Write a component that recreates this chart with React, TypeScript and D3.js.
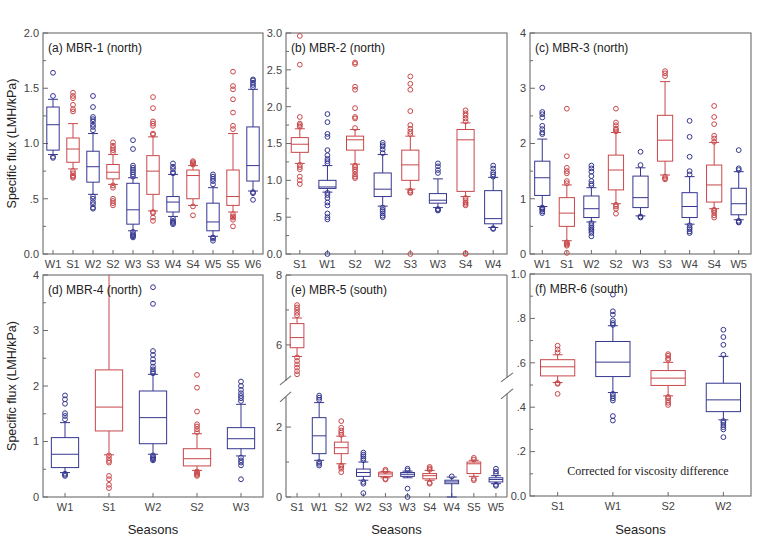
import React from "react";
import * as d3 from "d3";

// ---------- data: [lower whisker, Q1, median, Q3, upper whisker] ----------
const mbr1Seasons = ["W1", "S1", "W2", "S2", "W3", "S3", "W4", "S4", "W5", "S5", "W6"];
const mbr1Boxes = [
  [0.9, 0.94, 1.17, 1.33, 1.4],
  [0.77, 0.83, 0.95, 1.05, 1.18],
  [0.54, 0.65, 0.79, 0.93, 1.09],
  [0.63, 0.68, 0.74, 0.81, 0.9],
  [0.21, 0.27, 0.4, 0.64, 0.69],
  [0.39, 0.54, 0.75, 0.89, 1.06],
  [0.34, 0.38, 0.47, 0.52, 0.72],
  [0.44, 0.5, 0.71, 0.76, 0.8],
  [0.16, 0.21, 0.29, 0.46, 0.6],
  [0.38, 0.44, 0.52, 0.76, 1.09],
  [0.57, 0.66, 0.8, 1.15, 1.49],
];
const mbr1Outliers = [
  [1.64, 1.43, 0.88, 0.87],
  [1.46, 1.43, 1.41, 1.35, 1.31, 1.29, 0.75, 0.73, 0.71, 0.7, 0.69],
  [1.43, 1.33, 1.24, 1.22, 1.2, 1.17, 1.15, 1.12, 0.52, 0.5, 0.47, 0.45, 0.42, 0.41],
  [1.01, 0.98, 0.96, 0.94, 0.92, 0.62, 0.6, 0.5, 0.48, 0.46, 0.44],
  [1.03, 0.95, 0.8, 0.78, 0.76, 0.74, 0.72, 0.7, 0.2, 0.18, 0.17, 0.16, 0.15],
  [1.42, 1.32, 1.2, 1.18, 1.16, 1.09, 1.08, 0.38, 0.37, 0.33, 0.3],
  [0.82, 0.79, 0.77, 0.74, 0.73, 0.32, 0.3, 0.29, 0.28, 0.27],
  [0.84, 0.83, 0.82, 0.81, 0.43, 0.35],
  [0.72, 0.7, 0.68, 0.66, 0.63, 0.15, 0.14, 0.12],
  [1.65, 1.52, 1.49, 1.4, 1.28, 1.16, 1.13, 0.36, 0.34, 0.33, 0.31, 0.25],
  [1.58, 1.57, 1.55, 1.53, 1.51, 0.56, 0.55, 0.49],
];

const mbr2Seasons = ["S1", "W1", "S2", "W2", "S3", "W3", "S4", "W4"];
const mbr2Boxes = [
  [1.23, 1.38, 1.49, 1.58, 1.7],
  [0.84, 0.89, 0.91, 1.0, 1.2],
  [1.22, 1.41, 1.55, 1.6, 1.69],
  [0.65, 0.78, 0.88, 1.1, 1.35],
  [0.88, 1.0, 1.21, 1.41, 1.6],
  [0.63, 0.69, 0.73, 0.82, 1.02],
  [0.78, 0.85, 1.55, 1.69, 1.78],
  [0.36, 0.41, 0.48, 0.86, 1.04],
];
const mbr2Outliers = [
  [2.96, 2.57, 1.86, 1.77, 1.75, 1.73, 1.21, 1.18, 1.15, 1.05, 1.0, 0.95],
  [1.9, 1.79, 1.63, 1.59, 1.41, 1.34, 1.29, 1.26, 1.23, 0.83, 0.8, 0.76, 0.7, 0.66, 0.55, 0.5, 0.47, 0.0],
  [2.6, 2.58, 2.27, 2.23, 1.98, 1.86, 1.84, 1.71, 1.2, 1.18, 1.15, 1.12, 1.08, 1.05, 1.03],
  [1.51, 1.48, 1.46, 1.42, 1.37, 0.63, 0.6, 0.58, 0.55, 0.52, 0.5],
  [2.41, 2.31, 2.23, 1.94, 1.75, 1.7, 1.66, 1.63, 0.86, 0.84, 0.83, 0.0],
  [1.23, 1.19, 1.14, 1.1, 0.61, 0.6, 0.59],
  [1.95, 1.91, 1.88, 1.84, 1.8, 0.76, 0.73, 0.7, 0.68, 0.66, 0.01, 0.0],
  [1.2, 1.16, 1.11, 1.08, 1.05, 0.35, 0.34],
];

const mbr3Seasons = ["W1", "S1", "W2", "S2", "W3", "S3", "W4", "S4", "W5"];
const mbr3Boxes = [
  [0.86, 1.06, 1.38, 1.68, 2.08],
  [0.24, 0.5, 0.74, 1.02, 1.25],
  [0.58, 0.66, 0.82, 1.05, 1.2],
  [0.91, 1.16, 1.52, 1.79, 2.2],
  [0.69, 0.84, 1.02, 1.41, 1.56],
  [1.43, 1.68, 2.06, 2.51, 3.12],
  [0.54, 0.66, 0.86, 1.11, 1.4],
  [0.82, 0.94, 1.25, 1.61, 2.02],
  [0.62, 0.71, 0.91, 1.19, 1.49],
];
const mbr3Outliers = [
  [3.01, 2.57, 2.53, 2.47, 2.32, 2.26, 2.2, 2.17, 0.84, 0.82, 0.8, 0.77, 0.74],
  [2.63, 1.77, 1.56, 1.5, 1.46, 1.32, 1.28, 0.21, 0.19, 0.17, 0.15, 0.02],
  [1.6, 1.55, 1.49, 1.41, 1.32, 1.27, 1.24, 0.56, 0.52, 0.48, 0.45, 0.42, 0.38, 0.32],
  [2.63, 2.38, 2.33, 2.27, 2.25, 2.22, 0.89, 0.86, 0.82, 0.73],
  [1.85, 1.61, 0.68, 0.66],
  [3.31, 3.27, 3.22, 1.4, 1.37, 1.35],
  [2.41, 2.12, 1.76, 1.5, 1.44, 0.52, 0.48, 0.45, 0.41, 0.38],
  [2.68, 2.48, 2.35, 2.14, 2.09, 2.03, 0.8, 0.78, 0.75, 0.7, 0.66],
  [1.88, 1.55, 1.52, 0.6, 0.58, 0.57],
];

const mbr4Seasons = ["W1", "S1", "W2", "S2", "W3"];
const mbr4Boxes = [
  [0.44, 0.53, 0.77, 1.07, 1.34],
  [0.76, 1.19, 1.62, 2.29, 4.6],
  [0.77, 0.96, 1.43, 1.91, 2.21],
  [0.48, 0.56, 0.69, 0.87, 1.14],
  [0.74, 0.87, 1.05, 1.25, 1.67],
];
const mbr4Outliers = [
  [1.83, 1.76, 1.68, 1.51, 1.46, 1.4, 0.42, 0.4, 0.38],
  [0.75, 0.7, 0.65, 0.62, 0.38, 0.32, 0.22, 0.16],
  [3.78, 3.48, 2.63, 2.56, 2.48, 2.42, 2.35, 2.3, 2.26, 2.23, 0.75, 0.72, 0.7, 0.68, 0.66],
  [2.2, 1.97, 1.54, 1.31, 1.27, 1.22, 1.17, 0.46, 0.44, 0.42, 0.4, 0.38],
  [2.08, 2.0, 1.93, 1.87, 1.82, 1.78, 1.73, 0.71, 0.66, 0.62, 0.57, 0.32],
];

const mbr5Seasons = ["S1", "W1", "S2", "W2", "S3", "W3", "S4", "W4", "S5", "W5"];
const mbr5Boxes = [
  [5.67, 5.92, 6.21, 6.61, 6.77],
  [1.05, 1.24, 1.75, 2.27, 2.7],
  [0.95, 1.24, 1.41, 1.57, 1.74],
  [0.48, 0.59, 0.7, 0.8, 1.0],
  [0.55, 0.59, 0.66, 0.71, 0.73],
  [0.55, 0.59, 0.65, 0.7, 0.74],
  [0.48, 0.52, 0.61, 0.67, 0.76],
  [0.0, 0.38, 0.43, 0.48, 0.57],
  [0.59, 0.67, 0.95, 1.0, 1.05],
  [0.38, 0.43, 0.5, 0.55, 0.61],
];
const mbr5Outliers = [
  [7.14, 7.07, 7.0, 6.92, 6.85, 5.64, 5.54, 5.44, 5.35, 5.25, 5.16],
  [2.9, 2.84, 2.78, 1.0, 0.95, 0.9],
  [2.17, 1.98, 1.9, 1.84, 1.78, 0.9, 0.86, 0.81, 0.71],
  [1.27, 1.21, 1.16, 1.1, 1.05, 0.43, 0.38, 0.11],
  [0.78, 0.74, 0.52, 0.5],
  [0.81, 0.76, 0.24, 0.0],
  [0.86, 0.82, 0.78, 0.41, 0.38],
  [0.59],
  [1.12, 1.07, 0.52, 0.48],
  [0.81, 0.73, 0.67, 0.35, 0.32],
];

const mbr6Seasons = ["S1", "W1", "S2", "W2"];
const mbr6Boxes = [
  [0.511, 0.541, 0.582, 0.614, 0.636],
  [0.466, 0.538, 0.603, 0.696, 0.767],
  [0.451, 0.498, 0.531, 0.565, 0.602],
  [0.343, 0.38, 0.433, 0.508, 0.629],
];
const mbr6Outliers = [
  [0.677, 0.66, 0.647, 0.509, 0.505, 0.46],
  [0.907, 0.832, 0.817, 0.791, 0.779, 0.771, 0.46, 0.45, 0.44, 0.43, 0.36, 0.34],
  [0.639, 0.632, 0.621, 0.614, 0.446, 0.44, 0.43, 0.42, 0.41],
  [0.749, 0.716, 0.681, 0.636, 0.338, 0.33, 0.32, 0.31, 0.3, 0.265],
];

// ---------- axis ticks ----------
const ticks1 = [0, 0.5, 1.0, 1.5, 2.0];
const labels1 = ["0.0", ".5", "1.0", "1.5", "2.0"];
const ticks2 = [0, 0.5, 1.0, 1.5, 2.0, 2.5, 3.0];
const labels2 = ["0.0", ".5", "1.0", "1.5", "2.0", "2.5", "3.0"];
const ticks34 = [0, 1, 2, 3, 4];
const labels34 = ["0", "1", "2", "3", "4"];
const ticks5 = [0, 2, 6, 8];
const labels5 = ["0", "2", "6", "8"];
const minor5 = [1, 7];
const ticks6 = [0, 0.2, 0.4, 0.6, 0.8, 1.0];
const labels6 = ["0.0", ".2", ".4", ".6", ".8", "1.0"];

const FONT = "'Liberation Sans', Arial, Helvetica, sans-serif";
const BLUE = "#35378f";
const RED = "#c8474a";
const AXIS = "#6b6b6b";
const TEXT = "#444";

type PanelProps = {
  id: string;
  x: number;
  y: number;
  w: number;
  h: number;
  seasons: string[];
  boxes: number[][];
  outliers: number[][];
  top: number;
  ticks: number[];
  labels: string[];
  minor: number[];
  title: string;
  brk?: [number, number];
};

function Panel(p: PanelProps) {
  const { x, y, w, h } = p;
  const xs = d3.scaleBand<string>().domain(p.seasons).range([0, w]);
  let ys: d3.ScaleLinear<number, number>;
  let yb = 0;
  if (p.brk) {
    const k = h / (p.top - (p.brk[1] - p.brk[0]));
    yb = h - p.brk[0] * k;
    ys = d3.scaleLinear().domain([0, p.brk[0], p.brk[1], p.top]).range([h, yb, yb, 0]);
  } else {
    ys = d3.scaleLinear().domain([0, p.top]).range([h, 0]);
  }
  const bw = xs.bandwidth() * 0.62;
  const cw = Math.min(10, bw * 0.8);
  const clipId = `clip-${p.id}`;
  const col = (s: string) => (s.startsWith("W") ? BLUE : RED);

  const up = yb - 13;
  const lo = yb + 3;
  const rs = -3;
  const frame = p.brk ? (
    <g stroke={AXIS} strokeWidth={1.1} fill="none">
      <line x1={0} y1={0} x2={w} y2={0} />
      <line x1={0} y1={h} x2={w} y2={h} />
      <line x1={0} y1={0} x2={0} y2={up} />
      <line x1={0} y1={lo} x2={0} y2={h} />
      <line x1={w} y1={0} x2={w} y2={up + rs} />
      <line x1={w} y1={lo + rs} x2={w} y2={h} />
      <line x1={-6} y1={up + 4} x2={5} y2={up - 5} />
      <line x1={-6} y1={lo + 5} x2={5} y2={lo - 5} />
      <line x1={w - 6} y1={up + rs + 4} x2={w + 6} y2={up + rs - 5} />
      <line x1={w - 6} y1={lo + rs + 5} x2={w + 6} y2={lo + rs - 5} />
    </g>
  ) : (
    <rect x={0} y={0} width={w} height={h} fill="none" stroke={AXIS} strokeWidth={1.1} />
  );

  return (
    <g transform={`translate(${x},${y})`}>
      <defs>
        <clipPath id={clipId}>
          <rect x={-4} y={0} width={w + 8} height={h + 4} />
        </clipPath>
      </defs>
      {frame}
      {/* y ticks */}
      {p.ticks.map((t, i) => (
        <g key={`t${i}`}>
          <line x1={0} x2={5} y1={ys(t)} y2={ys(t)} stroke={AXIS} strokeWidth={1} />
          <text
            x={-4}
            y={ys(t)}
            dy="0.35em"
            textAnchor="end"
            fontSize={11}
            fontFamily={FONT}
            fill={TEXT}
          >
            {p.labels[i]}
          </text>
        </g>
      ))}
      {p.minor.map((t, i) => (
        <line key={`m${i}`} x1={0} x2={3} y1={ys(t)} y2={ys(t)} stroke={AXIS} strokeWidth={1} />
      ))}
      {/* x ticks */}
      {p.seasons.map((s) => {
        const cx = (xs(s) as number) + xs.bandwidth() / 2;
        return (
          <g key={`x${s}`}>
            <line x1={cx} x2={cx} y1={h} y2={h - 4} stroke={AXIS} strokeWidth={1} />
            <text
              x={cx}
              y={h + 14}
              textAnchor="middle"
              fontSize={11}
              fontFamily={FONT}
              fill={TEXT}
            >
              {s}
            </text>
          </g>
        );
      })}
      {/* boxes */}
      <g clipPath={`url(#${clipId})`}>
        {p.seasons.map((s, i) => {
          const cx = (xs(s) as number) + xs.bandwidth() / 2;
          const [wl, q1, md, q3, wh] = p.boxes[i];
          const c = col(s);
          return (
            <g key={`b${s}`} stroke={c} fill="none" strokeWidth={1}>
              <line x1={cx} x2={cx} y1={ys(wh)} y2={ys(q3)} />
              <line x1={cx} x2={cx} y1={ys(q1)} y2={ys(wl)} />
              <line x1={cx - cw / 2} x2={cx + cw / 2} y1={ys(wh)} y2={ys(wh)} />
              <line x1={cx - cw / 2} x2={cx + cw / 2} y1={ys(wl)} y2={ys(wl)} />
              <rect x={cx - bw / 2} y={ys(q3)} width={bw} height={ys(q1) - ys(q3)} />
              <line x1={cx - bw / 2} x2={cx + bw / 2} y1={ys(md)} y2={ys(md)} />
              {p.outliers[i].map((v, j) => (
                <circle key={j} cx={cx} cy={ys(v)} r={2.4} />
              ))}
            </g>
          );
        })}
      </g>
      <text x={5} y={19} fontSize={12} fontFamily={FONT} fill="#222">
        {p.title}
      </text>
    </g>
  );
}

export default function App() {
  const topY = 33;
  const topH = 221;
  const botY = 275;
  const botH = 222;
  const cols = [
    [43, 220],
    [286, 221],
    [530, 221],
  ];
  const minorQ = (top: number, step: number) => d3.range(step, top, step * 2);
  return (
    <svg
      width={768}
      height={538}
      style={{ position: "absolute", left: 0, top: 0, background: "#fff" }}
    >
      <rect x={0} y={0} width={768} height={538} fill="#fff" />
      <Panel id="a" x={cols[0][0]} y={topY} w={cols[0][1]} h={topH} seasons={mbr1Seasons} boxes={mbr1Boxes}
        outliers={mbr1Outliers} top={2} ticks={ticks1} labels={labels1} minor={minorQ(2, 0.25)} title="(a) MBR-1 (north)" />
      <Panel id="b" x={cols[1][0]} y={topY} w={cols[1][1]} h={topH} seasons={mbr2Seasons} boxes={mbr2Boxes}
        outliers={mbr2Outliers} top={3} ticks={ticks2} labels={labels2} minor={minorQ(3, 0.25)} title="(b) MBR-2 (north)" />
      <Panel id="c" x={cols[2][0]} y={topY} w={cols[2][1]} h={topH} seasons={mbr3Seasons} boxes={mbr3Boxes}
        outliers={mbr3Outliers} top={4} ticks={ticks34} labels={labels34} minor={minorQ(4, 0.5)} title="(c) MBR-3 (north)" />
      <Panel id="d" x={cols[0][0]} y={botY} w={cols[0][1]} h={botH} seasons={mbr4Seasons} boxes={mbr4Boxes}
        outliers={mbr4Outliers} top={4} ticks={ticks34} labels={labels34} minor={minorQ(4, 0.5)} title="(d) MBR-4 (north)" />
      <Panel id="e" x={cols[1][0]} y={botY} w={cols[1][1]} h={botH} seasons={mbr5Seasons} boxes={mbr5Boxes}
        outliers={mbr5Outliers} top={8} ticks={ticks5} labels={labels5} minor={minor5} title="(e) MBR-5 (south)"
        brk={[2.95, 4.6]} />
      <Panel id="f" x={cols[2][0]} y={botY - 1} w={cols[2][1]} h={botH} seasons={mbr6Seasons} boxes={mbr6Boxes}
        outliers={mbr6Outliers} top={1} ticks={ticks6} labels={labels6} minor={minorQ(1, 0.1)} title="(f) MBR-6 (south)" />
      <text x={648} y={475} textAnchor="middle" fontSize={12} fontFamily="'Liberation Serif', 'Times New Roman', serif" fill="#222">
        Corrected for viscosity difference
      </text>
      {[topY + topH / 2, botY + botH / 2].map((cy, i) => (
        <text key={i} transform={`translate(16,${cy}) rotate(-90)`} textAnchor="middle" fontSize={12.5}
          fontFamily={FONT} fill="#222">
          Specific flux (LMH/kPa)
        </text>
      ))}
      {cols.map((c, i) => (
        <text key={i} x={c[0] + c[1] / 2} y={534} textAnchor="middle" fontSize={13} fontFamily={FONT} fill="#222">
          Seasons
        </text>
      ))}
    </svg>
  );
}
